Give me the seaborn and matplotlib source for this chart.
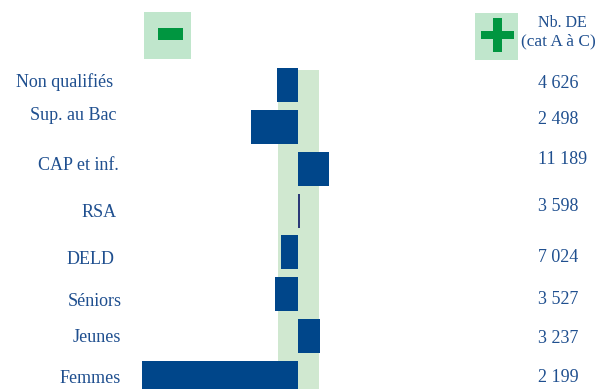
import matplotlib
matplotlib.use("Agg")
import matplotlib.pyplot as plt
from matplotlib.patches import Rectangle
import pandas as pd
import seaborn as sns

# Publics and their gap (percentage points) relative to the reference share
categories = ["Non qualifiés", "Sup. au Bac", "CAP et inf.", "RSA",
              "DELD", "Séniors", "Jeunes", "Femmes"]
ecarts = [-2.07, -4.67, 3.10, 0.20, -1.67, -2.27, 2.23, -15.57]
nb_de = [4626, 2498, 11189, 3598, 7024, 3527, 3237, 2199]

# Band of "normal" variation around zero
band_low, band_high = -1.97, 2.17

# Per-row nudges for the text columns (category units, baseline placement)
label_dy = [0.05, -0.16, 0.03, 0.15, 0.28, 0.28, 0.14, 0.12]
label_right_px = [113, 117, 119, 117, 115, 122, 121, 121]
count_dy = [0.07, -0.07, -0.11, 0.01, 0.23, 0.23, 0.16, 0.10]

W, H = 598, 389
BLUE = "#00468a"
RSA_BLUE = "#2b3a78"
TEXT = "#1f4f8f"
BAND = "#d0e8d0"
ICON_BG = "#c0e6cc"
ICON_FG = "#009640"

sns.set_style("white")
plt.rcParams["font.family"] = ["Liberation Serif", "DejaVu Serif"]

fig = plt.figure(figsize=(W / 100, H / 100), dpi=100)
ax = fig.add_axes([0, 0, 1, 1])

df = pd.DataFrame({"public": categories, "ecart": ecarts})
palette = {c: (RSA_BLUE if c == "RSA" else BLUE) for c in categories}
sns.barplot(data=df, x="ecart", y="public", hue="public", palette=palette,
            orient="h", width=0.81, legend=False, saturation=1,
            edgecolor="none", linewidth=0, ax=ax, zorder=3)

# 10 px per percentage point, zero at x = 297.6 px
zero_px, px_per_unit = 297.6, 10.0
ax.set_xlim(-zero_px / px_per_unit, (W - zero_px) / px_per_unit)
row0_px, row_px = 85.0, 41.86
ax.set_ylim((H - row0_px) / row_px, -row0_px / row_px)

band_top = (H - 70) / H
ax.axvspan(band_low, band_high, ymin=0, ymax=band_top, color=BAND,
           lw=0, zorder=1)

ax.set_axis_off()

def px_to_x(px):
    return (px - zero_px) / px_per_unit

for i, (cat, n) in enumerate(zip(categories, nb_de)):
    ax.text(px_to_x(label_right_px[i]), i + label_dy[i], cat,
            ha="right", va="baseline", fontsize=13, color=TEXT)
    ax.text(px_to_x(538), i + count_dy[i], f"{n:,}".replace(",", " "),
            ha="left", va="baseline", fontsize=13, color=TEXT)

# Column header
fig.text(562 / W, 1 - 27 / H, "Nb. DE", ha="center", va="baseline",
         fontsize=11.5, color=TEXT)
fig.text(558 / W, 1 - 45 / H, "(cat A à C)", ha="center", va="baseline",
         fontsize=12.5, color=TEXT)

def box(x0, y0, x1, y1, color):
    fig.add_artist(Rectangle((x0 / W, 1 - y1 / H), (x1 - x0) / W,
                             (y1 - y0) / H, transform=fig.transFigure,
                             facecolor=color, edgecolor="none"))

# "minus" and "plus" keys
box(144, 12, 191, 59, ICON_BG)
box(158, 28, 183, 40, ICON_FG)
box(475, 13, 518, 60, ICON_BG)
box(481, 31, 514, 39, ICON_FG)
box(493, 18, 502, 52, ICON_FG)

fig.savefig("out.png", dpi=100, facecolor="white")
